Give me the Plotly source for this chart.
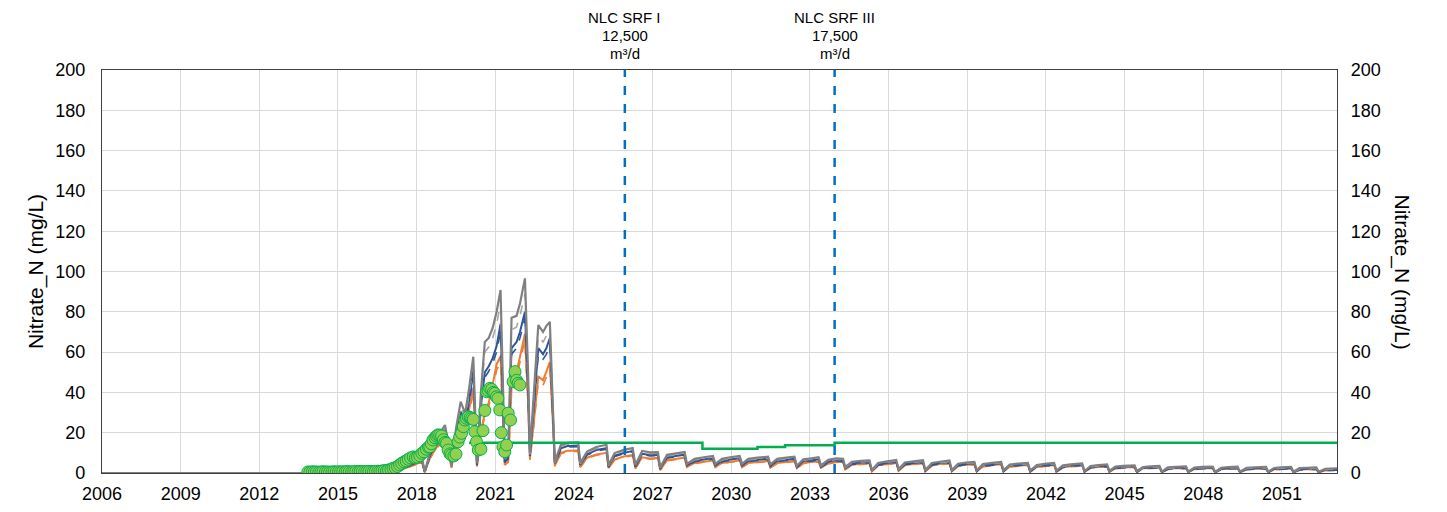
import plotly.graph_objects as go

# ---------------- data ----------------
years = [
    2006.0, 2016.8, 2017.2, 2017.6, 2018.0, 2018.2, 2018.31, 2018.5, 2018.8, 2019.08,
    2019.2, 2019.33, 2019.5, 2019.68, 2019.85, 2020.0, 2020.16, 2020.3, 2020.45, 2020.6,
    2020.75, 2020.9, 2021.05, 2021.2, 2021.28, 2021.36, 2021.49, 2021.62, 2021.81, 2021.94,
    2022.13, 2022.25, 2022.32, 2022.45, 2022.64, 2022.82, 2022.95, 2023.08, 2023.2, 2023.27,
    2023.5, 2023.75, 2024.16, 2024.24, 2024.5, 2024.85, 2025.24, 2025.32, 2025.55, 2025.9,
    2026.24, 2026.34, 2026.6, 2026.9, 2027.2, 2027.29, 2027.55, 2027.9, 2028.22, 2028.31,
    2028.6, 2028.95, 2029.3, 2029.39, 2029.65, 2029.95, 2030.32, 2030.41, 2030.65, 2031.0,
    2031.4, 2031.49, 2031.75, 2032.1, 2032.41, 2032.5, 2032.75, 2033.05, 2033.33, 2033.42,
    2033.7, 2034.0, 2034.26, 2034.35, 2034.6, 2034.95, 2035.27, 2035.36, 2035.6, 2035.95,
    2036.29, 2036.38, 2036.62, 2036.95, 2037.31, 2037.4, 2037.65, 2037.95, 2038.32, 2038.41,
    2038.65, 2038.95, 2039.27, 2039.36, 2039.6, 2039.95, 2040.29, 2040.38, 2040.62, 2040.95,
    2041.31, 2041.4, 2041.65, 2041.95, 2042.31, 2042.4, 2042.65, 2042.95, 2043.38, 2043.47,
    2043.7, 2044.0, 2044.33, 2044.42, 2044.65, 2044.95, 2045.38, 2045.47, 2045.7, 2046.0,
    2046.33, 2046.42, 2046.65, 2046.95, 2047.34, 2047.43, 2047.66, 2047.95, 2048.36, 2048.45,
    2048.68, 2048.95, 2049.31, 2049.4, 2049.65, 2049.95, 2050.39, 2050.48, 2050.7, 2050.95,
    2051.35, 2051.44, 2051.67, 2051.95, 2052.31, 2052.4, 2052.65, 2053.1,
]

gray_solid = [
    0, 0, 1.0, 3.5, 6.5, 7.5, 0.6, 10, 18, 23.8,
    15, 4, 22, 35.4, 29.6, 42, 57.7, 4.8, 40, 65,
    67, 72, 80, 90.8, 50, 7, 9, 77, 78, 84,
    96.6, 50, 10, 35, 73.4, 70, 73, 75, 35, 5.6,
    13.9, 15, 15.2, 5, 10.6, 12.9, 14, 4, 9.9, 11.5,
    12.4, 4, 10.9, 10.2, 10.4, 2.8, 9, 9.8, 10.4, 4.5,
    7, 7.8, 8.5, 4.5, 7, 7.8, 8.4, 4.5, 7, 7.6,
    8.1, 4.3, 7, 7.6, 8.1, 3.6, 6.8, 7.3, 7.8, 3.8,
    6.5, 7.3, 7.0, 3, 5.5, 6, 6.3, 1.5, 5, 5.8,
    6.5, 2, 5.2, 5.8, 6.3, 1.5, 5, 5.6, 6.2, 1.5,
    4.6, 5.2, 5.5, 1.3, 4.4, 5, 5.5, 1.3, 4.2, 4.7,
    5, 1.2, 4, 4.5, 5, 1.2, 3.8, 4.3, 4.8, 1,
    3.5, 3.9, 4.3, 1, 3.2, 3.5, 3.8, 1, 3, 3.3,
    3.5, 0.7, 2.8, 3.1, 3.3, 0.7, 2.7, 3, 3.2, 0.6,
    2.6, 2.9, 3.1, 0.6, 2.6, 2.8, 3, 0.6, 2.5, 2.8,
    3, 0.6, 2.4, 2.6, 2.8, 0.6, 2.1, 2.3,
]

gray_dashed = [
    0, 0, 0.9, 3.2, 6.0, 7.0, 0.6, 9.3, 16.8, 22.2,
    14, 3.7, 20.5, 33, 27.6, 39, 53.5, 4.4, 37, 60,
    62.5, 67, 74, 84, 46, 6.5, 8.4, 71, 72.5, 78,
    89, 46, 9.2, 32, 68, 65, 68, 70, 32, 5.2,
    13.2, 14.3, 14.5, 4.6, 10, 12.2, 13.3, 3.6, 9.3, 10.9,
    11.8, 3.6, 10.3, 9.6, 9.8, 2.5, 8.4, 9.2, 9.8, 4.1,
    6.5, 7.2, 7.9, 4.1, 6.5, 7.2, 7.8, 4.1, 6.5, 7,
    7.5, 3.9, 6.5, 7, 7.5, 3.2, 6.3, 6.8, 7.2, 3.4,
    6, 6.8, 6.5, 2.7, 5, 5.5, 5.8, 1.3, 4.6, 5.3,
    6, 1.8, 4.8, 5.3, 5.8, 1.3, 4.6, 5.1, 5.7, 1.3,
    4.2, 4.8, 5.1, 1.1, 4, 4.6, 5.1, 1.1, 3.8, 4.3,
    4.6, 1, 3.6, 4.1, 4.6, 1, 3.4, 3.9, 4.4, 0.8,
    3.1, 3.5, 3.9, 0.8, 2.8, 3.1, 3.4, 0.8, 2.6, 2.9,
    3.1, 0.5, 2.4, 2.7, 2.9, 0.5, 2.3, 2.6, 2.8, 0.4,
    2.2, 2.5, 2.7, 0.4, 2.2, 2.4, 2.6, 0.4, 2.1, 2.4,
    2.6, 0.4, 2, 2.2, 2.4, 0.4, 1.7, 1.9,
]

blue_solid = [
    0, 0, 0.8, 3.0, 5.5, 6.5, 0.5, 8.6, 15.6, 20.5,
    13, 3.4, 19, 30.5, 25.5, 36, 51, 4, 33, 50,
    53, 57, 63, 74, 40, 5.5, 7.5, 62, 65, 70,
    80, 42, 8.4, 29, 62, 59, 62, 67, 30, 4.8,
    12.3, 13.4, 13.6, 4, 9.3, 11.4, 12.3, 3.2, 8.6, 10,
    10.9, 3.2, 9.5, 8.9, 9.1, 2.2, 7.8, 8.6, 9.1, 3.7,
    6, 6.7, 7.4, 3.7, 6, 6.7, 7.3, 3.7, 6, 6.6,
    7, 3.5, 6, 6.6, 7, 3, 5.9, 6.3, 6.8, 3.1,
    5.6, 6.4, 6.1, 2.4, 4.7, 5.2, 5.5, 1.1, 4.3, 5,
    5.7, 1.5, 4.5, 5, 5.5, 1.1, 4.3, 4.9, 5.4, 1.1,
    4, 4.5, 4.8, 1, 3.8, 4.3, 4.8, 1, 3.6, 4.1,
    4.4, 0.9, 3.4, 3.9, 4.4, 0.9, 3.2, 3.7, 4.2, 0.7,
    3, 3.3, 3.7, 0.7, 2.7, 3, 3.3, 0.7, 2.5, 2.8,
    3, 0.5, 2.3, 2.6, 2.8, 0.5, 2.2, 2.5, 2.7, 0.4,
    2.1, 2.4, 2.6, 0.4, 2.1, 2.3, 2.5, 0.4, 2, 2.3,
    2.5, 0.4, 1.9, 2.1, 2.3, 0.4, 1.6, 1.8,
]

blue_dashed = [
    0, 0, 0.8, 2.8, 5.2, 6.2, 0.5, 8.2, 15, 19.6,
    12.4, 3.2, 18.2, 29.3, 24.5, 34.6, 48, 3.8, 31.5, 47.5,
    50.5, 54.5, 60, 70.5, 38, 5.2, 7, 59, 62, 67,
    76.5, 40, 8, 27.5, 59, 56.5, 59, 64, 28.5, 4.5,
    11.8, 12.9, 13.1, 3.7, 8.9, 10.9, 11.8, 2.9, 8.2, 9.6,
    10.5, 2.9, 9.1, 8.5, 8.7, 2, 7.4, 8.2, 8.7, 3.4,
    5.6, 6.3, 7, 3.4, 5.6, 6.3, 6.9, 3.4, 5.6, 6.2,
    6.6, 3.2, 5.6, 6.2, 6.6, 2.7, 5.5, 5.9, 6.4, 2.8,
    5.2, 6, 5.7, 2.1, 4.3, 4.8, 5.1, 0.9, 3.9, 4.6,
    5.3, 1.3, 4.1, 4.6, 5.1, 0.9, 3.9, 4.5, 5, 0.9,
    3.6, 4.1, 4.4, 0.8, 3.4, 3.9, 4.4, 0.8, 3.2, 3.7,
    4, 0.7, 3, 3.5, 4, 0.7, 2.8, 3.3, 3.8, 0.5,
    2.6, 2.9, 3.3, 0.5, 2.3, 2.6, 2.9, 0.5, 2.1, 2.4,
    2.6, 0.4, 1.9, 2.2, 2.4, 0.4, 1.8, 2.1, 2.3, 0.3,
    1.7, 2, 2.2, 0.3, 1.7, 1.9, 2.1, 0.3, 1.6, 1.9,
    2.1, 0.3, 1.5, 1.7, 1.9, 0.3, 1.2, 1.4,
]

orange_solid = [
    0, 0, 0.6, 2.5, 4.6, 5.5, 0.4, 7.4, 13.5, 18,
    11.2, 2.8, 16.5, 27, 22, 31, 42, 3.2, 20, 30,
    35, 44, 54, 58, 30, 4, 5.5, 43, 50, 58,
    69, 35, 7, 23, 48, 46, 51, 55, 24, 3.6,
    10, 11, 11.2, 3, 7.6, 9.2, 10, 2.4, 6.8, 8.2,
    9, 2.4, 7.8, 7.2, 7.5, 1.5, 6.4, 7.1, 7.6, 3,
    5, 5.6, 6.2, 3, 5, 5.6, 6.2, 3, 5, 5.5,
    6, 2.8, 5, 5.5, 6, 2.4, 5, 5.4, 5.8, 2.6,
    4.8, 5.6, 5.4, 1.9, 4.1, 4.6, 4.9, 0.8, 3.8, 4.5,
    5.1, 1.2, 4, 4.5, 5, 0.8, 3.8, 4.4, 4.9, 0.8,
    3.6, 4.1, 4.4, 0.7, 3.4, 3.9, 4.4, 0.7, 3.2, 3.7,
    4, 0.6, 3, 3.5, 4, 0.6, 2.9, 3.4, 3.8, 0.5,
    2.7, 3, 3.4, 0.5, 2.4, 2.7, 3, 0.5, 2.3, 2.6,
    2.8, 0.3, 2.1, 2.4, 2.6, 0.3, 2, 2.3, 2.5, 0.3,
    1.9, 2.2, 2.4, 0.3, 1.9, 2.1, 2.3, 0.3, 1.8, 2.1,
    2.3, 0.3, 1.7, 1.9, 2.1, 0.3, 1.4, 1.6,
]

orange_dashed = [
    0, 0, 0.6, 2.3, 4.3, 5.2, 0.4, 7, 12.8, 17,
    10.6, 2.6, 15.6, 25.6, 21, 29.5, 40, 3, 19, 28.5,
    33, 41.5, 51, 55, 28, 3.8, 5.2, 40.5, 47.5, 55,
    66, 33, 6.5, 21.5, 45, 43.5, 48, 52, 22.5, 3.3,
    9.6, 10.6, 10.8, 2.8, 7.3, 8.8, 9.6, 2.2, 6.5, 7.9,
    8.6, 2.2, 7.5, 6.9, 7.2, 1.4, 6.1, 6.8, 7.3, 2.8,
    4.7, 5.3, 5.9, 2.8, 4.7, 5.3, 5.9, 2.8, 4.7, 5.2,
    5.7, 2.6, 4.7, 5.2, 5.7, 2.2, 4.7, 5.1, 5.5, 2.4,
    4.5, 5.3, 5.1, 1.7, 3.8, 4.3, 4.6, 0.7, 3.5, 4.2,
    4.8, 1.1, 3.7, 4.2, 4.7, 0.7, 3.5, 4.1, 4.6, 0.7,
    3.3, 3.8, 4.1, 0.6, 3.1, 3.6, 4.1, 0.6, 2.9, 3.4,
    3.7, 0.5, 2.7, 3.2, 3.7, 0.5, 2.6, 3.1, 3.5, 0.4,
    2.4, 2.7, 3.1, 0.4, 2.1, 2.4, 2.7, 0.4, 2, 2.3,
    2.5, 0.2, 1.8, 2.1, 2.3, 0.2, 1.7, 2, 2.2, 0.2,
    1.6, 1.9, 2.1, 0.2, 1.6, 1.8, 2, 0.2, 1.5, 1.8,
    2, 0.2, 1.4, 1.6, 1.8, 0.2, 1.1, 1.3,
]

limit_years = [2020.0, 2028.9, 2031.0, 2032.05, 2033.94, 2053.1]
limit_values = [15, 12, 12.9, 13.8, 15, 15]

obs_years = [
    2013.85, 2013.93, 2014.02, 2014.1, 2014.18, 2014.27, 2014.35, 2014.43, 2014.52, 2014.6,
    2014.68, 2014.77, 2014.85, 2014.93, 2015.02, 2015.1, 2015.18, 2015.27, 2015.35, 2015.43,
    2015.52, 2015.6, 2015.68, 2015.77, 2015.85, 2015.93, 2016.02, 2016.1, 2016.18, 2016.27,
    2016.35, 2016.43, 2016.52, 2016.6, 2016.68, 2016.77, 2016.85, 2016.93, 2017.02, 2017.1,
    2017.18, 2017.27, 2017.35, 2017.43, 2017.52, 2017.6, 2017.68, 2017.77, 2017.87, 2017.95,
    2018.03, 2018.12, 2018.2, 2018.28, 2018.37, 2018.45, 2018.5, 2018.56, 2018.62, 2018.7,
    2018.76, 2018.81, 2018.88, 2018.95, 2019.02, 2019.08, 2019.14, 2019.2, 2019.27, 2019.33,
    2019.42, 2019.5, 2019.58, 2019.64, 2019.71, 2019.78, 2019.84, 2019.9, 2019.97, 2020.04,
    2020.1, 2020.16, 2020.22, 2020.28, 2020.35, 2020.45, 2020.53, 2020.6, 2020.67, 2020.73,
    2020.79, 2020.86, 2020.92, 2020.98, 2021.04, 2021.1, 2021.17, 2021.23, 2021.29, 2021.36,
    2021.43, 2021.49, 2021.58, 2021.68, 2021.75, 2021.81, 2021.87, 2021.94,
]
obs_values = [
    0.5, 0.4, 0.6, 0.5, 0.5, 0.4, 0.5, 0.6, 0.5, 0.5,
    0.4, 0.5, 0.6, 0.5, 0.6, 0.5, 0.6, 0.5, 0.7, 0.6,
    0.5, 0.6, 0.7, 0.6, 0.8, 0.7, 0.6, 0.7, 0.8, 0.7,
    0.6, 0.8, 0.9, 0.8, 1.0, 1.2, 1.1, 1.5, 1.8, 2.3,
    2.6, 3.2, 4.0, 4.8, 5.5, 6.0, 6.8, 7.5, 8.0, 7.6,
    7.9, 8.6, 9.8, 10.5, 11.8, 12.8, 13.0, 14.5, 16.4, 17.5,
    18.3, 18.9, 18.8, 18.4, 16.5, 15.2, 14.7, 11.4, 9.5, 8.9,
    8.5, 9.4, 15.5, 17.8, 19.7, 23.0, 26.3, 27.2, 27.9, 27.5,
    27.0, 26.6, 20.5, 15.5, 11.4, 11.8, 21.0, 31.0, 40.3, 41.0,
    42.0, 41.5, 40.0, 39.5, 37.8, 37.0, 31.3, 20.0, 13.0, 10.6,
    13.9, 29.7, 26.3, 45.3, 50.3, 46.0, 44.5, 43.7,
]

event_years = [2025.94, 2033.94]
event_labels = [
    ["NLC SRF I", "12,500", "m³/d"],
    ["NLC SRF III", "17,500", "m³/d"],
]

x_ticks = [2006, 2009, 2012, 2015, 2018, 2021, 2024, 2027, 2030, 2033, 2036, 2039, 2042, 2045, 2048, 2051]
y_ticks = [0, 20, 40, 60, 80, 100, 120, 140, 160, 180, 200]
y_title = "Nitrate_N (mg/L)"

# ---------------- figure ----------------
FONT = "Liberation Sans, Arial, sans-serif"
fig = go.Figure()

# drawn bottom-up: orange, blue, gray on top
series = [
    (orange_dashed, "#ED7D31", "dash", 1.6),
    (orange_solid, "#ED7D31", "solid", 2.0),
    (blue_dashed, "#2F5597", "dash", 1.6),
    (blue_solid, "#2F5597", "solid", 2.0),
    (gray_dashed, "#A6A6A6", "dash", 1.6),
    (gray_solid, "#808080", "solid", 2.2),
]
for vals, col, dash, w in series:
    fig.add_trace(go.Scatter(
        x=years, y=vals, mode="lines",
        line=dict(color=col, width=w, dash=dash),
        showlegend=False, hoverinfo="skip",
    ))

fig.add_trace(go.Scatter(
    x=limit_years, y=limit_values, mode="lines",
    line=dict(color="#00B050", width=2.5, shape="hv"),
    showlegend=False, hoverinfo="skip",
))

fig.add_trace(go.Scatter(
    x=obs_years, y=obs_values, mode="markers",
    marker=dict(size=12, color="#92D050", line=dict(color="#00B050", width=1)),
    showlegend=False, hoverinfo="skip",
))

# invisible trace to activate right axis
fig.add_trace(go.Scatter(
    x=[x_ticks[0]], y=[0], yaxis="y2", mode="markers",
    marker=dict(opacity=0), showlegend=False, hoverinfo="skip",
))

line_shifts = [53, 35, 17]
for yr, lines in zip(event_years, event_labels):
    fig.add_shape(type="line", xref="x", yref="paper",
                  x0=yr, x1=yr, y0=0, y1=1,
                  line=dict(color="#0070C0", width=2.5, dash="dash"))
    for txt, sh in zip(lines, line_shifts):
        fig.add_annotation(x=yr, xref="x", y=1, yref="paper",
                           yanchor="middle", yshift=sh, showarrow=False,
                           text=txt, align="center",
                           font=dict(family=FONT, size=15, color="#000000"))

fig.add_annotation(x=1, xref="paper", y=0.5, yref="paper", xshift=79,
                   textangle=90, showarrow=False, text=y_title,
                   font=dict(family=FONT, size=21, color="#000000"))

axis_font = dict(family=FONT, size=18, color="#000000")
# page body adds an 8px offset; margins compensate so the plot box lands at 102..1337 x 70..473
fig.update_layout(
    width=1447, height=512,
    margin=dict(l=94, r=118, t=62, b=47, autoexpand=False),
    paper_bgcolor="white", plot_bgcolor="white",
    font=dict(family=FONT),
    xaxis=dict(
        range=[2006, 2053.1], tickmode="array", tickvals=x_ticks,
        ticktext=[str(t) for t in x_ticks], tickfont=axis_font,
        showgrid=True, gridcolor="#D9D9D9", gridwidth=1,
        showline=True, linecolor="#404040", linewidth=1.2, mirror=True,
        zeroline=False, ticks="", ticklabelstandoff=4,
    ),
    yaxis=dict(
        range=[0, 200], tickmode="array", tickvals=y_ticks, tickfont=axis_font,
        showgrid=True, gridcolor="#D9D9D9", gridwidth=1,
        showline=True, linecolor="#404040", linewidth=1.2, mirror=True,
        zeroline=False, ticks="", ticklabelstandoff=12,
        title=dict(text=y_title, font=dict(family=FONT, size=21, color="#000000"), standoff=5),
    ),
    yaxis2=dict(
        range=[0, 200], tickmode="array", tickvals=y_ticks, tickfont=axis_font,
        overlaying="y", side="right", showgrid=False, zeroline=False,
        showline=True, linecolor="#404040", linewidth=1.2, ticks="",
        ticklabelstandoff=9,
    ),
)

fig.write_html("out.html")
